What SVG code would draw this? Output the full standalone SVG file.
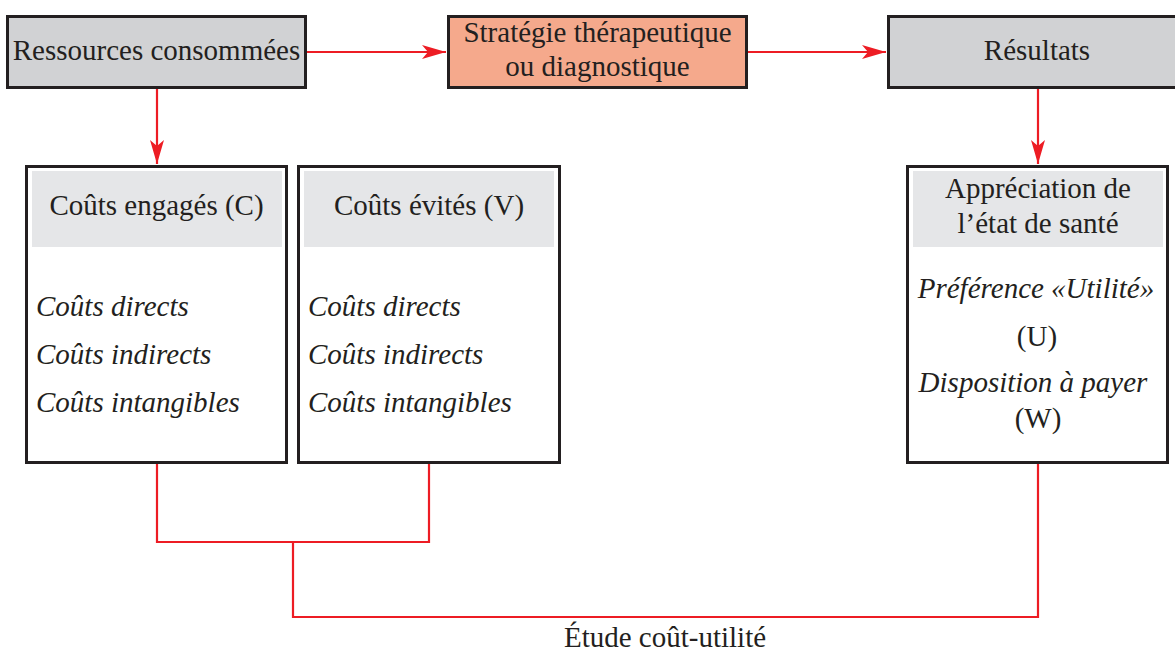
<svg xmlns="http://www.w3.org/2000/svg" width="1175" height="655" viewBox="0 0 1175 655">
<style>
.box{stroke:#231f20;stroke-width:3}
.top{fill:#d1d2d4}
.strat{fill:#f5a98c}
.white{fill:#ffffff}
.head{fill:#e5e6e8}
.t{font-family:"Liberation Serif","Times New Roman",serif;font-size:29px;fill:#231f20}
.c{text-anchor:middle}
.i{font-style:italic}
.conn{fill:none;stroke:#ed1c24;stroke-width:2.2}
</style>
<defs>
<marker id="arr" markerUnits="userSpaceOnUse" markerWidth="24" markerHeight="14" refX="24" refY="7" orient="auto">
<path d="M0,0 L24,7 L0,14 L6,7 z" fill="#ed1c24"/>
</marker>
</defs>
<rect width="1175" height="655" fill="#ffffff"/>
<g id="connectors">
<path class="conn" d="M307,52 H446" marker-end="url(#arr)"/>
<path class="conn" d="M748,52 H886" marker-end="url(#arr)"/>
<path class="conn" d="M157,89 V164" marker-end="url(#arr)"/>
<path class="conn" d="M1038,89 V164" marker-end="url(#arr)"/>
<path class="conn" d="M157,464 V542 H429 V464"/>
<path class="conn" d="M293,542 V617 H1038 V464"/>
</g>
<g id="ressources">
<rect class="box top" x="7.5" y="16.5" width="298" height="71"/>
<text class="t c" x="156.5" y="60">Ressources consommées</text>
</g>
<g id="strategie">
<rect class="box strat" x="448.5" y="16.5" width="298" height="71"/>
<text class="t c" x="597.5" y="42">Stratégie thérapeutique</text>
<text class="t c" x="597.5" y="76">ou diagnostique</text>
</g>
<g id="resultats">
<rect class="box top" x="888.5" y="16.5" width="300" height="71"/>
<text class="t c" x="1037" y="60">Résultats</text>
</g>
<g id="couts-engages">
<rect class="box white" x="26.5" y="166.5" width="260" height="296"/>
<rect class="head" x="32" y="171" width="250" height="76"/>
<text class="t c" x="156.5" y="215">Coûts engagés (C)</text>
<text class="t i" x="36" y="316">Coûts directs</text>
<text class="t i" x="36" y="364">Coûts indirects</text>
<text class="t i" x="36" y="412">Coûts intangibles</text>
</g>
<g id="couts-evites">
<rect class="box white" x="298.5" y="166.5" width="261" height="296"/>
<rect class="head" x="304" y="171" width="250" height="76"/>
<text class="t c" x="429" y="215">Coûts évités (V)</text>
<text class="t i" x="308" y="316">Coûts directs</text>
<text class="t i" x="308" y="364">Coûts indirects</text>
<text class="t i" x="308" y="412">Coûts intangibles</text>
</g>
<g id="appreciation">
<rect class="box white" x="907.5" y="166.5" width="260" height="296"/>
<rect class="head" x="913" y="171" width="250" height="76"/>
<text class="t c" x="1038" y="198">Appréciation de</text>
<text class="t c" x="1038" y="233">l’état de santé</text>
<text class="t i c" x="1036" y="298">Préférence «Utilité»</text>
<text class="t c" x="1037" y="346">(U)</text>
<text class="t i c" x="1033" y="392">Disposition à payer</text>
<text class="t c" x="1038" y="428">(W)</text>
</g>
<g id="label">
<text class="t c" x="665" y="647">Étude coût-utilité</text>
</g>
</svg>
